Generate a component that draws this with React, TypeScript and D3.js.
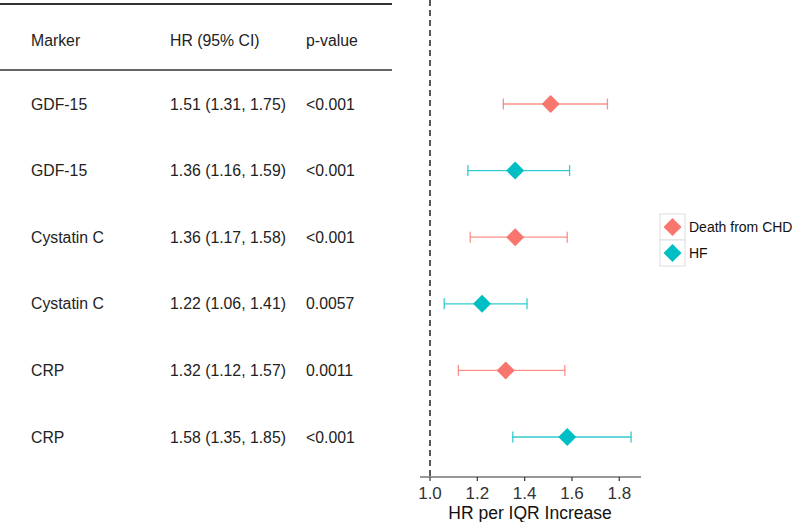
import React from "react";
import * as d3 from "d3";

const markers = ["GDF-15", "GDF-15", "Cystatin C", "Cystatin C", "CRP", "CRP"];
const hrText = ["1.51 (1.31, 1.75)", "1.36 (1.16, 1.59)", "1.36 (1.17, 1.58)", "1.22 (1.06, 1.41)", "1.32 (1.12, 1.57)", "1.58 (1.35, 1.85)"];
const pText = ["<0.001", "<0.001", "<0.001", "0.0057", "0.0011", "<0.001"];
const hr = [1.51, 1.36, 1.36, 1.22, 1.32, 1.58];
const lo = [1.31, 1.16, 1.17, 1.06, 1.12, 1.35];
const hi = [1.75, 1.59, 1.58, 1.41, 1.57, 1.85];
const outcome = ["Death from CHD", "HF", "Death from CHD", "HF", "Death from CHD", "HF"];
const outcomes = ["Death from CHD", "HF"];
const ticks = [1.0, 1.2, 1.4, 1.6, 1.8];
const colors = ["#F8766D", "#00BFC4"];

export default function App() {
  const W = 792, H = 522;
  const x = d3.scaleLinear().domain([0.9577, 1.8876]).range([420, 640]);
  const y = d3.scalePoint<number>().domain(d3.range(markers.length)).range([104, 437]);
  const col = d3.scaleOrdinal<string, string>().domain(outcomes).range(colors);
  const font = "Liberation Sans, Arial, sans-serif";
  const diamond = (cx: number, cy: number, r: number) =>
    `M${cx},${cy - r}L${cx + r},${cy}L${cx},${cy + r}L${cx - r},${cy}Z`;
  const axisY = 477;
  const fs = 15.8;
  return (
    <svg width={W} height={H} style={{ position: "absolute", left: 0, top: 0, background: "#fff" }} fontFamily={font}>
      {/* table */}
      <line x1={0} x2={392} y1={4} y2={4} stroke="#333" strokeWidth={2} />
      <line x1={0} x2={392} y1={70} y2={70} stroke="#333" strokeWidth={1.5} />
      <text x={31} y={40} dy="0.35em" fontSize={fs} fill="#222">Marker</text>
      <text x={170} y={40} dy="0.35em" fontSize={fs} fill="#222">HR (95% CI)</text>
      <text x={306} y={40} dy="0.35em" fontSize={fs} fill="#222">p-value</text>
      {markers.map((m, i) => (
        <g key={i}>
          <text x={31} y={y(i)!} dy="0.35em" fontSize={fs} fill="#222">{m}</text>
          <text x={170} y={y(i)!} dy="0.35em" fontSize={fs} fill="#222">{hrText[i]}</text>
          <text x={306} y={y(i)!} dy="0.35em" fontSize={fs} fill="#222">{pText[i]}</text>
        </g>
      ))}
      {/* reference line */}
      <line x1={x(1)} x2={x(1)} y1={0} y2={axisY} stroke="#000" strokeWidth={1.3} strokeDasharray="6,4" />
      {/* CIs */}
      {hr.map((v, i) => {
        const c = col(outcome[i]);
        const cy = y(i)!;
        return (
          <g key={i}>
            <g stroke={c} strokeOpacity={0.8} strokeWidth={1.3}>
              <line x1={x(lo[i])} x2={x(hi[i])} y1={cy} y2={cy} />
              <line x1={x(lo[i])} x2={x(lo[i])} y1={cy - 5.5} y2={cy + 5.5} />
              <line x1={x(hi[i])} x2={x(hi[i])} y1={cy - 5.5} y2={cy + 5.5} />
            </g>
            <path d={diamond(x(v), cy, 9)} fill={c} />
          </g>
        );
      })}
      {/* axis */}
      <line x1={420} x2={641} y1={axisY} y2={axisY} stroke="#333" strokeWidth={1.2} />
      {ticks.map((t) => (
        <g key={t}>
          <line x1={x(t)} x2={x(t)} y1={axisY} y2={axisY + 4} stroke="#333" strokeWidth={1.2} />
          <text x={x(t)} y={axisY + 16} dy="0.35em" textAnchor="middle" fontSize={17} fill="#333">{t.toFixed(1)}</text>
        </g>
      ))}
      <text x={530} y={513} dy="0.35em" textAnchor="middle" fontSize={17.5} fill="#111">HR per IQR Increase</text>
      {/* legend */}
      {outcomes.map((o, i) => {
        const by = 214 + i * 26;
        return (
          <g key={o}>
            <rect x={660} y={by} width={25} height={26} fill="#fff" stroke="#ddd" strokeWidth={1} />
            <path d={diamond(672.5, by + 13, 9)} fill={col(o)} />
            <text x={689} y={by + 13} dy="0.35em" fontSize={14} fill="#111">{o}</text>
          </g>
        );
      })}
    </svg>
  );
}
